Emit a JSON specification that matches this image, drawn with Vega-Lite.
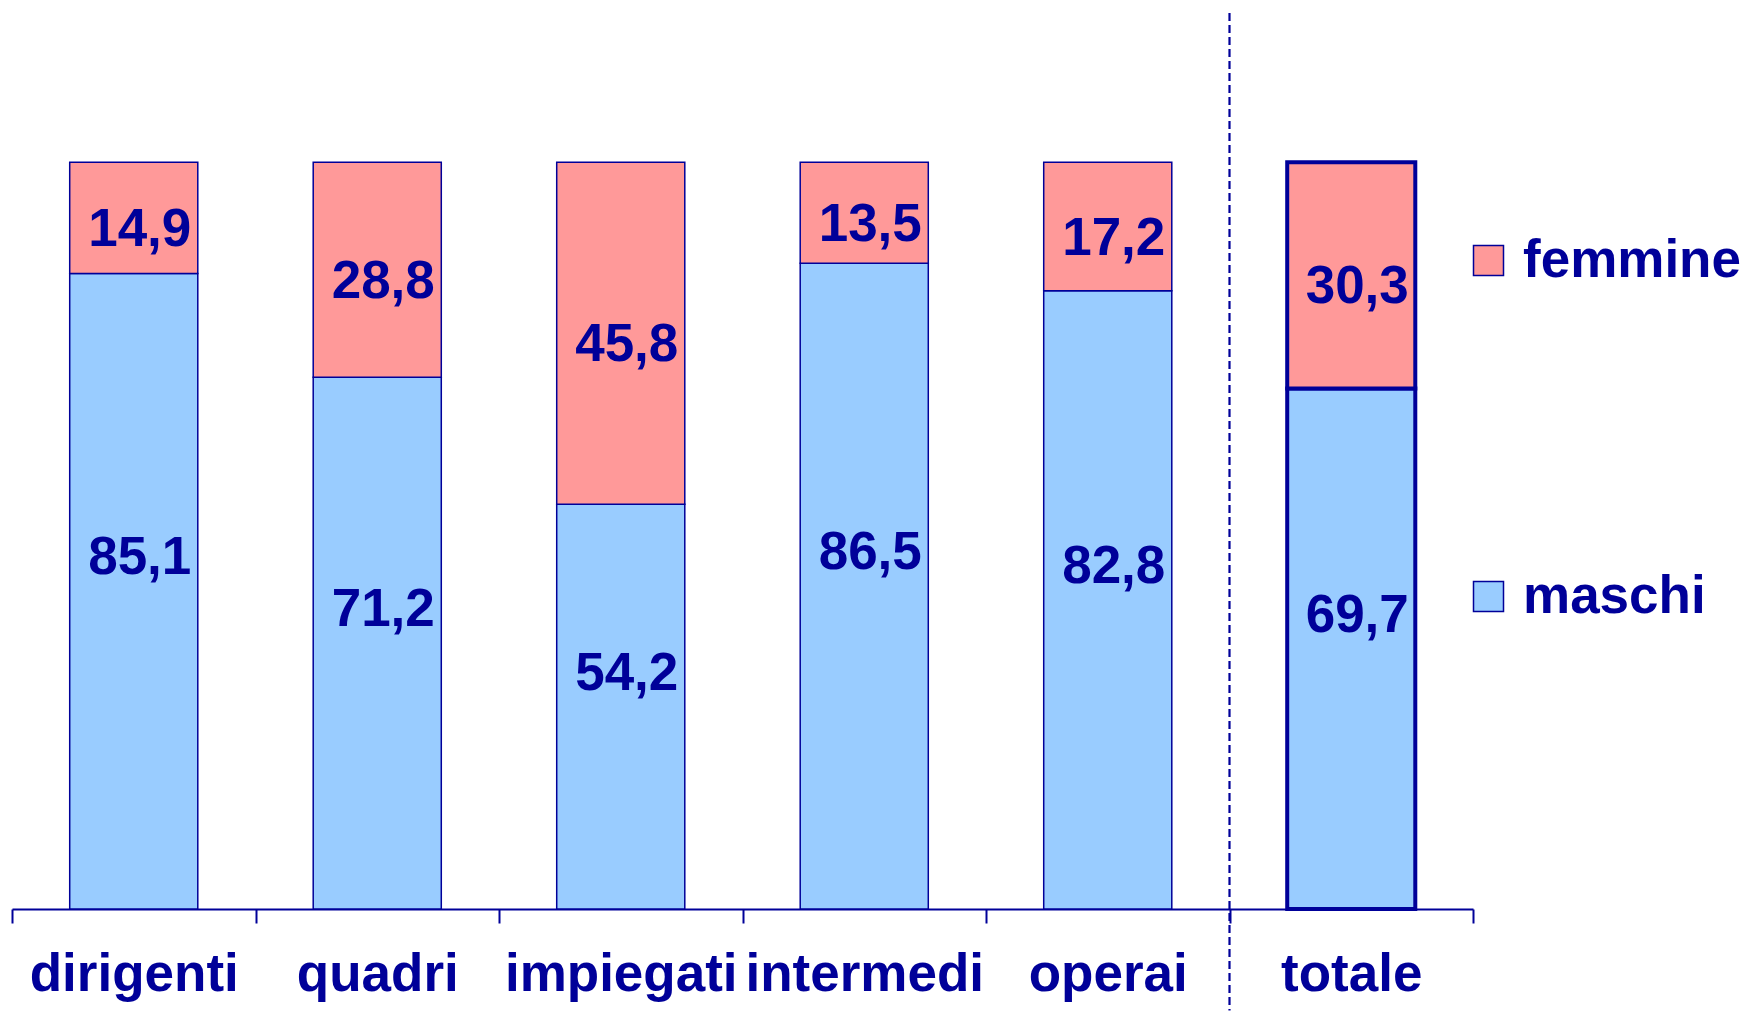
{
  "$schema": "https://vega.github.io/schema/vega-lite/v6.json",
  "width": 1461,
  "height": 896,
  "autosize": {"type": "none"},
  "padding": {"left": 12, "top": 13, "right": 274, "bottom": 104},
  "background": "white",
  "config": {"view": {"stroke": null}, "font": "Liberation Sans"},
  "data": {
    "values": [
      {"cat": "dirigenti", "sex": "maschi", "val": 85.1},
      {"cat": "dirigenti", "sex": "femmine", "val": 14.9},
      {"cat": "quadri", "sex": "maschi", "val": 71.2},
      {"cat": "quadri", "sex": "femmine", "val": 28.8},
      {"cat": "impiegati", "sex": "maschi", "val": 54.2},
      {"cat": "impiegati", "sex": "femmine", "val": 45.8},
      {"cat": "intermedi", "sex": "maschi", "val": 86.5},
      {"cat": "intermedi", "sex": "femmine", "val": 13.5},
      {"cat": "operai", "sex": "maschi", "val": 82.8},
      {"cat": "operai", "sex": "femmine", "val": 17.2},
      {"cat": "totale", "sex": "maschi", "val": 69.7},
      {"cat": "totale", "sex": "femmine", "val": 30.3}
    ]
  },
  "transform": [
    {"stack": "val", "groupby": ["cat"], "sort": [{"field": "sex", "order": "descending"}], "as": ["v0", "v1"]},
    {"calculate": "(datum.v0 + datum.v1) / 2", "as": "mid"},
    {"calculate": "format(datum.val, '.1f')", "as": "lbl0"},
    {"calculate": "replace(datum.lbl0, '.', ',')", "as": "lbl"}
  ],
  "encoding": {
    "x": {
      "field": "cat",
      "type": "nominal",
      "sort": ["dirigenti", "quadri", "impiegati", "intermedi", "operai", "totale"],
      "scale": {"paddingInner": 0, "paddingOuter": 0},
      "axis": {
        "title": null,
        "labelAngle": 0,
        "labelFont": "Liberation Sans",
        "labelFontSize": 53,
        "labelFontWeight": "bold",
        "labelColor": "#000099",
        "labelPadding": 25,
        "labelLimit": 0,
        "labelOverlap": false,
        "domainColor": "#000099",
        "domainWidth": 2,
        "tickColor": "#000099",
        "tickWidth": 2,
        "tickSize": 14,
        "tickBand": "extent",
        "grid": false
      }
    }
  },
  "layer": [
    {
      "mark": {"type": "bar", "stroke": "#000099", "width": {"band": 0.526}},
      "encoding": {
        "y": {"field": "v0", "type": "quantitative", "scale": {"domain": [0, 120]}, "axis": null},
        "y2": {"field": "v1"},
        "color": {
          "field": "sex",
          "type": "nominal",
          "scale": {"domain": ["femmine", "maschi"], "range": ["#FF9999", "#99CCFF"]},
          "legend": {
            "title": null,
            "orient": "none",
            "legendX": 1450,
            "legendY": 221,
            "padding": 0,
            "symbolType": "square",
            "symbolSize": 900,
            "symbolStrokeColor": "#000099",
            "symbolStrokeWidth": 1.5,
            "labelFont": "Liberation Sans",
            "labelFontSize": 53,
            "labelFontWeight": "bold",
            "labelColor": "#000099",
            "labelOffset": 8,
            "labelLimit": 0,
            "rowPadding": 282
          }
        },
        "strokeWidth": {"condition": {"test": "datum.cat === 'totale'", "value": 4}, "value": 1.5}
      }
    },
    {
      "transform": [{"filter": "datum.sex === 'maschi'"}],
      "mark": {"type": "text", "font": "Liberation Sans", "fontSize": 53, "fontWeight": "bold", "color": "#000099", "dx": 6, "dy": -33, "baseline": "middle"},
      "encoding": {
        "y": {"field": "mid", "type": "quantitative"},
        "text": {"field": "lbl"}
      }
    },
    {
      "transform": [{"filter": "datum.sex === 'femmine'"}],
      "mark": {"type": "text", "font": "Liberation Sans", "fontSize": 53, "fontWeight": "bold", "color": "#000099", "dx": 6, "dy": 12, "baseline": "middle"},
      "encoding": {
        "y": {"field": "mid", "type": "quantitative"},
        "text": {"field": "lbl"}
      }
    },
    {
      "data": {"values": [{"cat": "totale"}]},
      "mark": {"type": "rule", "color": "#000099", "strokeWidth": 2.2, "strokeDash": [8, 4], "clip": false},
      "encoding": {
        "x": {"field": "cat", "type": "nominal", "bandPosition": 0},
        "y": {"datum": 120},
        "y2": {"datum": -13.6}
      }
    }
  ]
}
